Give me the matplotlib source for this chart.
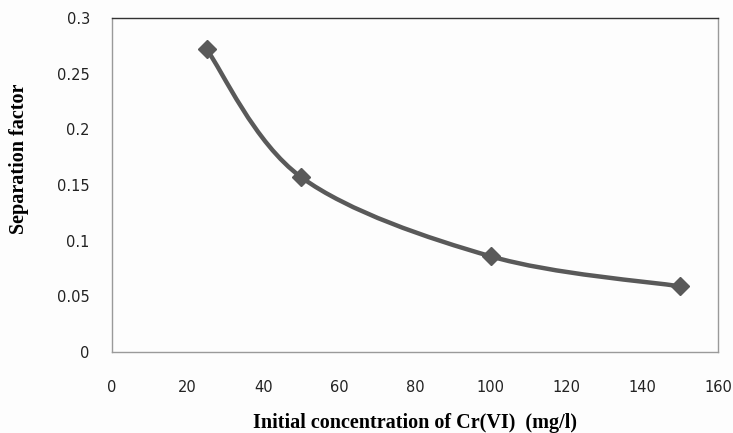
import numpy as np
import matplotlib
matplotlib.use('Agg')
from matplotlib import pyplot as plt
from matplotlib.path import Path
from matplotlib.patches import PathPatch

# initial concentration (mg/l) and separation factor
conc = [25, 50, 100, 150]
sep_factor = [0.272, 0.157, 0.086, 0.059]

x_ticks = [0, 20, 40, 60, 80, 100, 120, 140, 160]
y_ticks = [0, 0.05, 0.1, 0.15, 0.2, 0.25, 0.3]
y_tick_labels = ['0', '0.05', '0.1', '0.15', '0.2', '0.25', '0.3']

line_col = '#595959'


def smooth_path(xs, ys):
    # cubic bezier through the points, catmull-rom style control points
    p = np.column_stack([xs, ys]).astype(float)
    ext = np.vstack([p[0], p, p[-1]])
    verts = [p[0]]
    codes = [Path.MOVETO]
    for i in range(len(p) - 1):
        p0, p1, p2, p3 = ext[i], ext[i + 1], ext[i + 2], ext[i + 3]
        c1 = p1 + (p2 - p0) / 6.0
        c2 = p2 - (p3 - p1) / 6.0
        verts += [c1, c2, p2]
        codes += [Path.CURVE4] * 3
    return Path(verts, codes)


fig = plt.figure(figsize=(7.33, 4.33), dpi=100)
fig.patch.set_facecolor('#fdfdfd')
ax = fig.add_axes([0.1528, 0.187, 0.8267, 0.771])
ax.set_facecolor('#fdfdfd')

ax.add_patch(PathPatch(smooth_path(conc, sep_factor), facecolor='none',
                       edgecolor=line_col, lw=3.2, capstyle='round', zorder=2))
ax.plot(conc, sep_factor, linestyle='none', marker='D', ms=9.5,
        color=line_col, zorder=3)

ax.set_xlim(0, 160)
ax.set_ylim(0, 0.3)
ax.set_xticks(x_ticks)
ax.set_yticks(y_ticks)
ax.set_yticklabels(y_tick_labels)
ax.tick_params(length=0, labelsize=10.5, colors='#222222')
ax.tick_params(axis='x', pad=20)
ax.tick_params(axis='y', pad=16)

for s in ['left', 'bottom', 'right']:
    ax.spines[s].set_color('#9a9a9a')
    ax.spines[s].set_linewidth(1.0)
ax.spines['top'].set_color('#333333')
ax.spines['top'].set_linewidth(1.0)

ax.set_xlabel('Initial concentration of Cr(VI)  (mg/l)', family='Liberation Serif',
              fontweight='bold', fontsize=14.5, va='center')
ax.xaxis.set_label_coords(0.5, -0.2126)
ax.set_ylabel('Separation factor', family='Liberation Serif',
              fontweight='bold', fontsize=14.5, va='center', ha='center')
ax.yaxis.set_label_coords(-0.1535, 0.578)

plt.savefig('out.png', dpi=100, facecolor=fig.get_facecolor())
